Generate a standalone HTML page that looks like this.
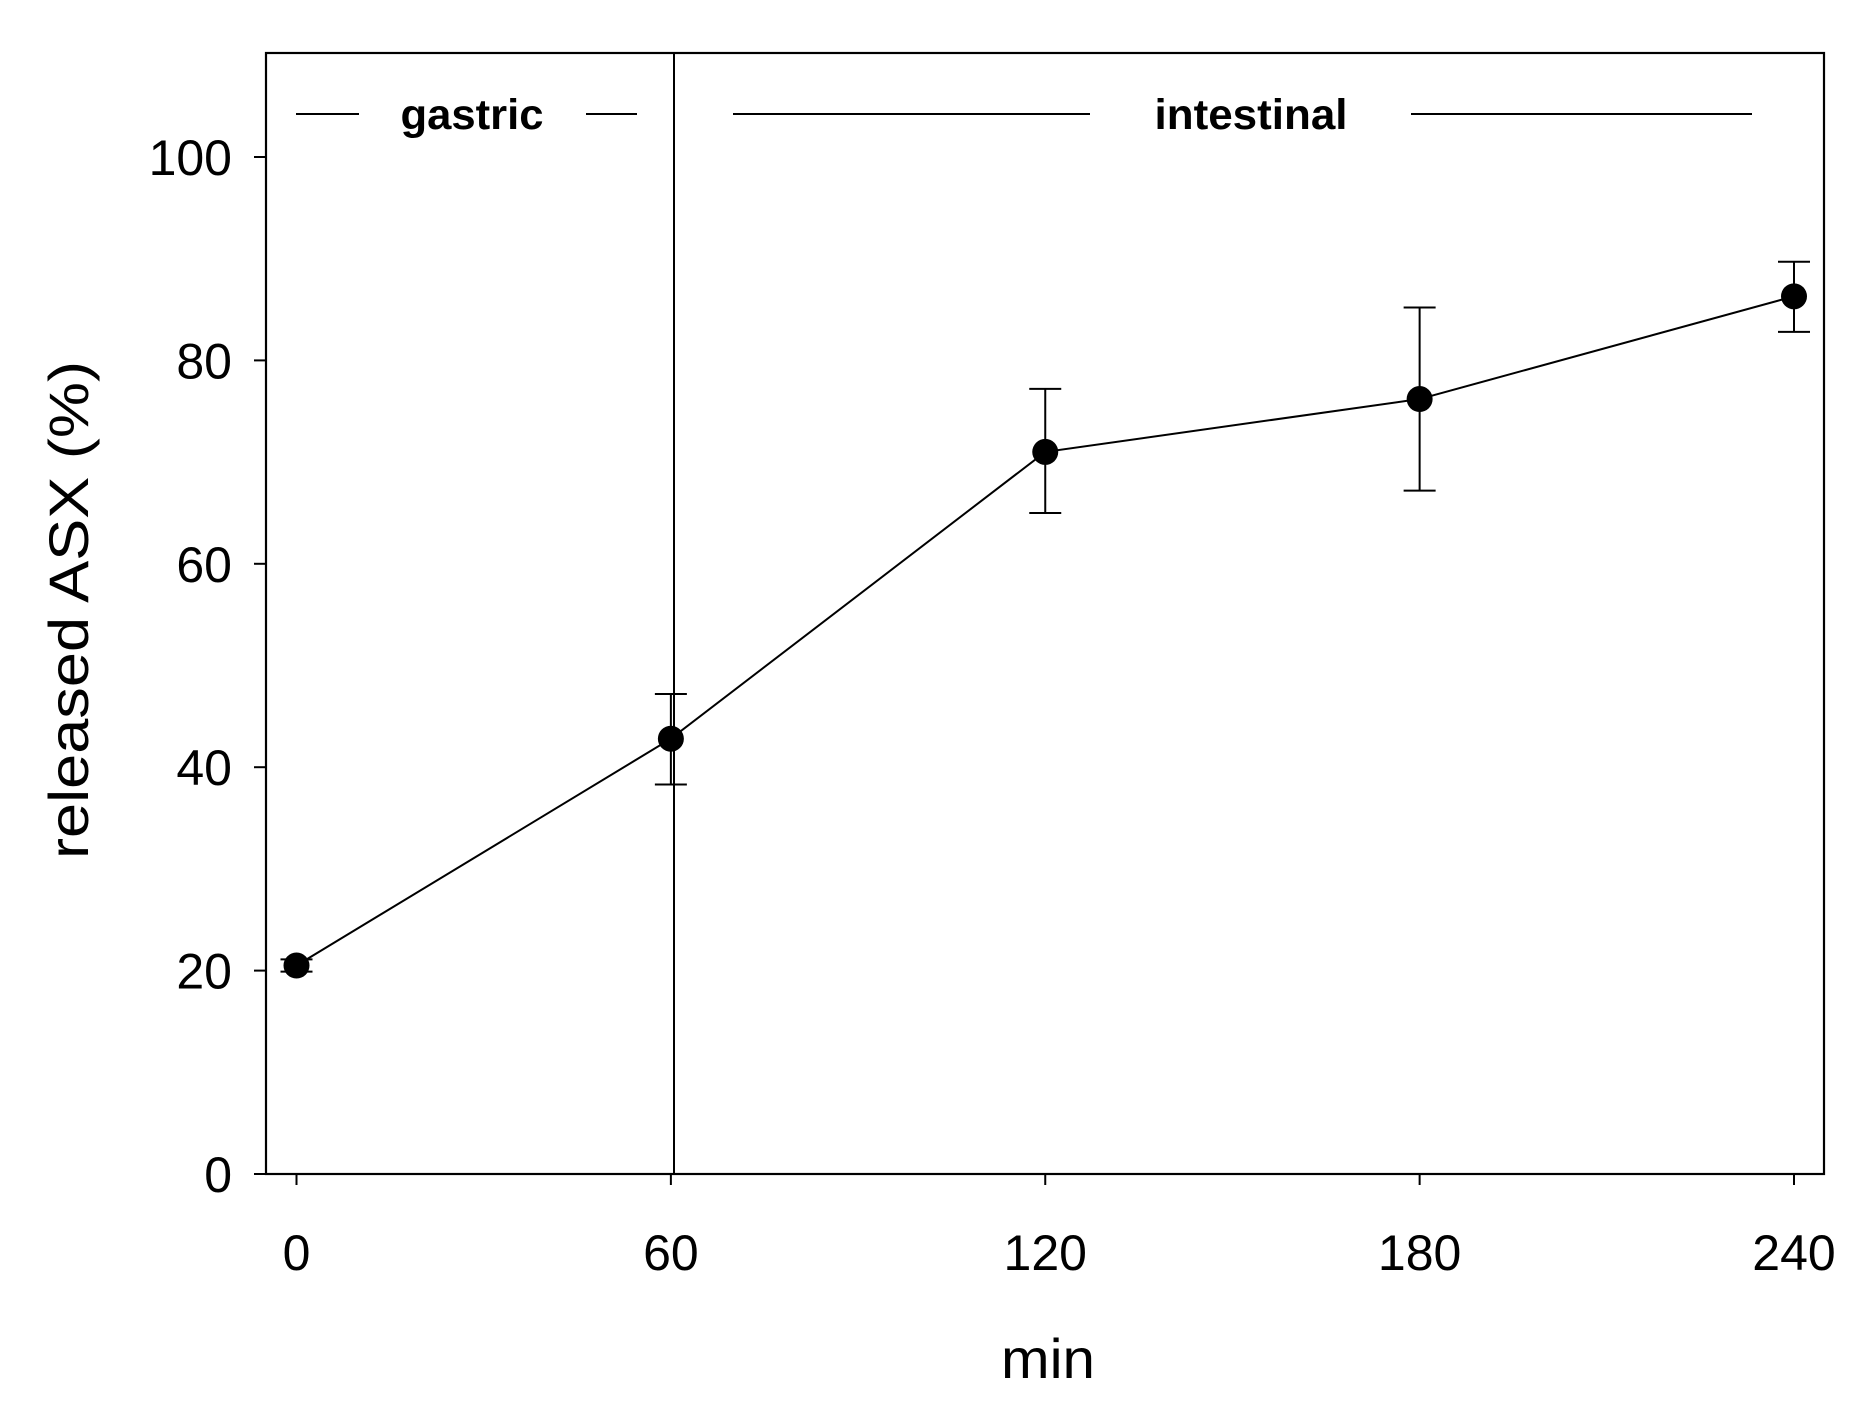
<!DOCTYPE html>
<html><head><meta charset="utf-8"><style>
html,body{margin:0;padding:0;background:#fff;}
svg{display:block;font-family:"Liberation Sans",Arial,sans-serif;}
</style></head><body>
<svg id="chart" width="1875" height="1411" viewBox="0 0 1875 1411">
<rect x="266" y="53" width="1558" height="1121" fill="none" stroke="#000" stroke-width="2.2"/>
<g id="ticks"></g>
<g id="series"></g>
<line x1="674" y1="53" x2="674" y2="1174" stroke="#000" stroke-width="2"/>
<g stroke="#000" stroke-width="2">
<line x1="296" y1="114" x2="359" y2="114"/>
<line x1="586" y1="114" x2="637" y2="114"/>
<line x1="733" y1="114" x2="1090" y2="114"/>
<line x1="1411" y1="114" x2="1752" y2="114"/>
</g>
<text x="472" y="129" font-size="43" font-weight="bold" text-anchor="middle" textLength="143" lengthAdjust="spacingAndGlyphs">gastric</text>
<text x="1251" y="129" font-size="43" font-weight="bold" text-anchor="middle" textLength="193" lengthAdjust="spacingAndGlyphs">intestinal</text>
<text transform="translate(88,610) rotate(-90)" font-size="56" text-anchor="middle" textLength="498" lengthAdjust="spacingAndGlyphs">released ASX (%)</text>
<text x="1048" y="1378" font-size="56" text-anchor="middle" textLength="94" lengthAdjust="spacingAndGlyphs">min</text>
</svg>
<script>
const xValues = [0, 60, 120, 180, 240];
const yValues = [20.5, 42.8, 71.0, 76.2, 86.3];
const errLow = [0.6, 4.5, 6.0, 9.0, 3.5];
const errHigh = [0.6, 4.4, 6.2, 9.0, 3.4];
const xTicks = [0, 60, 120, 180, 240];
const yTicks = [0, 20, 40, 60, 80, 100];
const NS = "http://www.w3.org/2000/svg";
function sx(v){ return 296.5 + (v/240)*(1794-296.5); }
function sy(v){ return 1174 - v*10.17; }
function mk(tag, attrs, parent){ const e=document.createElementNS(NS,tag); for(const k in attrs) e.setAttribute(k,attrs[k]); parent.appendChild(e); return e; }
const tg=document.getElementById('ticks');
xTicks.forEach(t=>{
  const l=mk('line',{x1:sx(t),x2:sx(t),y1:1174,y2:1185,stroke:'#000','stroke-width':2},tg);
  
  
  const tx=mk('text',{x:sx(t),y:1270,'font-size':50,'text-anchor':'middle'},tg);
  tx.textContent=t;
  
  
});
yTicks.forEach(t=>{
  const l=mk('line',{x1:254,x2:266,y1:sy(t),y2:sy(t),stroke:'#000','stroke-width':2},tg);
  
  
  const tx=mk('text',{x:232,y:sy(t)+18,'font-size':50,'text-anchor':'end'},tg);
  tx.textContent=t;
  
  
});
const sg=document.getElementById('series');
const pts=xValues.map((x,i)=>sx(x)+','+sy(yValues[i])).join(' ');
const pl=mk('polyline',{points:pts,fill:'none',stroke:'#000','stroke-width':2},sg);


xValues.forEach((x,i)=>{
  const cx=sx(x), lo=sy(yValues[i]-errLow[i]), hi=sy(yValues[i]+errHigh[i]);
  const g=mk('g',{stroke:'#000','stroke-width':2},sg);
  
  
  mk('line',{x1:cx,x2:cx,y1:lo,y2:hi},g);
  mk('line',{x1:cx-16,x2:cx+16,y1:lo,y2:lo},g);
  mk('line',{x1:cx-16,x2:cx+16,y1:hi,y2:hi},g);
  const c=mk('circle',{cx:cx,cy:sy(yValues[i]),r:13,fill:'#000'},sg);
  
  
});
</script>
</body></html>
